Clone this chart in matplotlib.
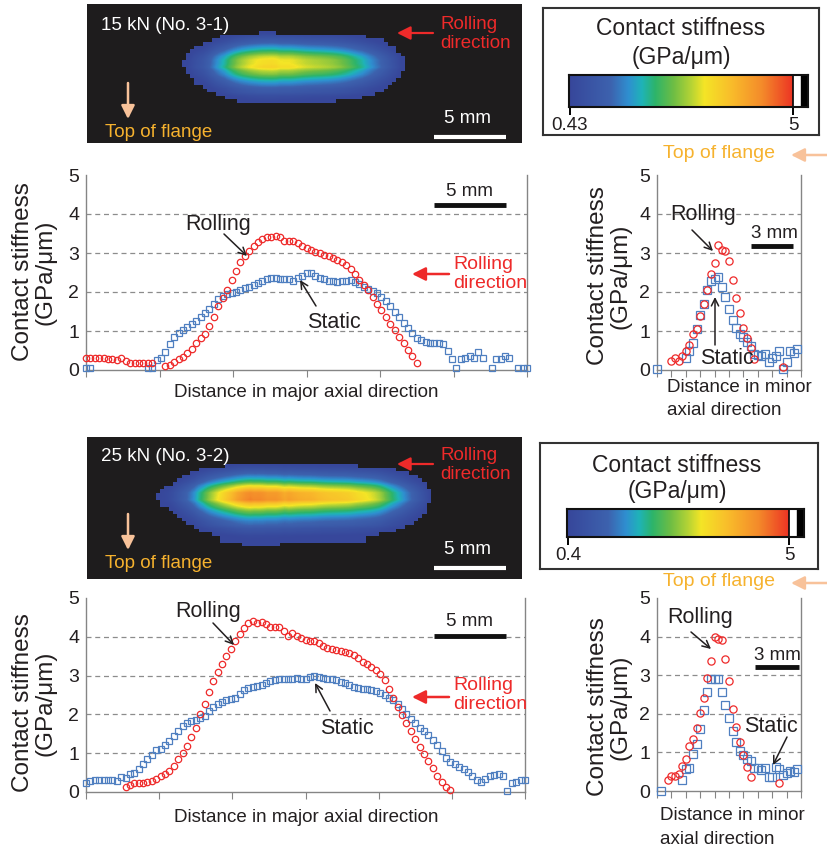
import numpy as np
import matplotlib
matplotlib.use('Agg')
import matplotlib.pyplot as plt
from matplotlib.colors import LinearSegmentedColormap

plt.rcParams['font.family'] = ['Liberation Sans', 'DejaVu Sans']

nan = np.nan

# profiles along the major axis, 0.3 mm pitch (GPa/um)
major_x = np.arange(101) * 0.3
rolling_major_15 = [0.31, 0.31, 0.31, 0.31, 0.30, 0.27, 0.27, 0.26, 0.30, 0.24,
                    0.19, 0.19, 0.19, 0.19, 0.19, 0.19, nan, nan, 0.09, 0.13,
                    0.20, 0.27, 0.34, 0.43, 0.55, 0.70, 0.82, 0.93, 1.12, 1.37,
                    1.63, 1.85, 2.05, 2.31, 2.55, 2.76, 2.93, 3.06, 3.18, 3.27,
                    3.35, 3.40, 3.42, 3.44, 3.41, 3.31, 3.30, 3.30, 3.26, 3.19,
                    3.13, 3.07, 3.03, 2.99, 2.96, 2.92, 2.88, 2.83, 2.76, 2.68,
                    2.58, 2.46, 2.32, 2.18, 2.05, 1.87, 1.70, 1.53, 1.36, 1.19,
                    1.02, 0.85, 0.69, 0.51, 0.35, 0.19] + [nan] * 25
static_major_15 = [0.05, 0.05, nan, nan, nan, nan, nan, nan, nan, nan,
                   nan, nan, nan, nan, 0.05, 0.05, 0.25, 0.30, 0.45, 0.66,
                   0.85, 0.95, 1.02, 1.09, 1.17, 1.26, 1.35, 1.45, 1.56, 1.70,
                   1.81, 1.90, 1.95, 1.98, 2.01, 2.05, 2.09, 2.12, 2.19, 2.24,
                   2.29, 2.33, 2.35, 2.35, 2.33, 2.33, 2.33, 2.29, 2.35, 2.42,
                   2.48, 2.49, 2.42, 2.37, 2.33, 2.29, 2.27, 2.26, 2.27, 2.29,
                   2.30, 2.26, 2.20, 2.14, 2.08, 2.03, 1.97, 1.87, 1.76, 1.63,
                   1.48, 1.35, 1.21, 1.07, 0.94, 0.83, 0.76, 0.71, 0.70, 0.69,
                   0.68, 0.66, 0.50, 0.27, 0.06, 0.27, 0.30, 0.36, 0.32, 0.46,
                   0.30, nan, 0.06, 0.27, 0.28, 0.35, 0.30, nan, 0.06, 0.06,
                   0.06]
rolling_major_25 = [nan] * 9 + [0.12, 0.17, 0.22, 0.23, 0.24, 0.25, 0.28, 0.34, 0.42, 0.47,
                                0.54, 0.67, 0.84, 1.01, 1.19, 1.41, 1.66, 2.00, 2.27, 2.59,
                                2.85, 3.08, 3.30, 3.50, 3.69, 3.88, 4.08, 4.22, 4.35, 4.42,
                                4.36, 4.38, 4.33, 4.24, 4.24, 4.24, 4.15, 4.02, 4.10, 4.03,
                                3.97, 3.93, 3.90, 3.89, 3.84, 3.77, 3.72, 3.68, 3.65, 3.63,
                                3.60, 3.57, 3.53, 3.45, 3.36, 3.30, 3.22, 3.14, 3.03, 2.88,
                                2.66, 2.42, 2.19, 1.99, 1.79, 1.58, 1.36, 1.16, 0.97, 0.80,
                                0.61, 0.41, 0.27, 0.13, 0.04] + [nan] * 17
static_major_25 = [0.22, 0.28, 0.30, 0.30, 0.30, 0.30, 0.30, 0.28, 0.38, 0.36,
                   0.46, 0.50, 0.60, 0.72, 0.85, 0.95, 1.07, 1.12, 1.20, 1.32,
                   1.45, 1.56, 1.71, 1.79, 1.83, 1.85, 1.90, 1.97, 2.09, 2.18,
                   2.27, 2.32, 2.36, 2.39, 2.41, 2.52, 2.62, 2.67, 2.70, 2.72,
                   2.76, 2.80, 2.85, 2.88, 2.90, 2.90, 2.91, 2.91, 2.93, 2.90,
                   2.92, 2.96, 2.98, 2.96, 2.94, 2.92, 2.90, 2.88, 2.84, 2.80,
                   2.75, 2.71, 2.68, 2.66, 2.65, 2.64, 2.61, 2.55, 2.49, 2.43,
                   2.38, 2.27, 2.13, 2.00, 1.88, 1.77, 1.65, 1.56, 1.47, 1.35,
                   1.21, 1.05, 0.88, 0.77, 0.71, 0.65, 0.60, 0.52, 0.41, 0.30,
                   0.27, 0.33, 0.40, 0.43, 0.47, 0.40, 0.03, 0.22, 0.26, 0.30,
                   0.30]

# profiles along the minor axis, 0.25 mm pitch
minor_x = np.arange(41) * 0.25
rolling_minor_15 = [nan] * 4 + [0.22, 0.31, 0.24, 0.35, 0.48, 0.63, 0.93, 1.06, 1.39, 1.69,
                                2.06, 2.47, 2.75, 3.20, 3.08, 3.05, 2.79, 2.32, 1.84, 1.47,
                                1.08, 0.83, 0.56, 0.29] + [nan] * 7 + [0.08] + [nan] * 5
static_minor_15 = [0.02] + [nan] * 7 + [0.30, 0.48, 0.69, 1.06, 1.41, 1.69, 2.04, 2.27, 2.33, 2.39,
                                        2.13, 1.86, 1.56, 1.28, 1.08, 0.93, 0.85, 0.72, 0.62, 0.40,
                                        0.39, 0.37, 0.40, 0.20, 0.30, 0.37, 0.48, 0.02, 0.20, 0.50,
                                        0.44, 0.54] + [nan]
rolling_minor_25 = [nan] * 3 + [0.29, 0.38, 0.38, 0.45, 0.66, 0.82, 1.16, 1.34, 1.64, 2.02,
                                2.41, 2.92, 3.38, 4.00, 3.94, 3.90, 3.41, 2.84, 2.13, 1.66,
                                1.27, 0.92, 0.62, 0.36] + [nan] * 7 + [0.22] + [nan] * 6
static_minor_25 = [nan, 0.0] + [nan] * 5 + [0.29, 0.58, 0.60, 0.95, 1.22, 1.61, 2.09, 2.56, 2.89, 2.89,
                                            2.89, 2.56, 2.24, 1.90, 1.55, 1.28, 1.03, 0.92, 0.82, 0.79,
                                            0.59, 0.59, 0.55, 0.59, 0.36, 0.36, 0.62, 0.58, 0.41, 0.47,
                                            0.51, 0.49, 0.58] + [nan]

loads = ['15 kN (No. 3-1)', '25 kN (No. 3-2)']
cbar_ticks = [(0.43, '0.43'), (0.4, '0.4')]

RED = '#ee2a2a'
BLUE = '#4f7fc0'
TXT = '#231f20'
SPINE = '#858585'
GRID = '#8c8c8c'
PEACH = '#f8c29a'
GOLD = '#f6b22e'

stiff_cmap = LinearSegmentedColormap.from_list('stiff', [
    (0.0, '#37479b'), (0.18, '#3d62ae'), (0.26, '#2f8fd0'), (0.32, '#1fb3b8'),
    (0.38, '#2db46a'), (0.46, '#6cbd45'), (0.54, '#b4d335'), (0.60, '#f4e526'),
    (0.72, '#f9bd2b'), (0.86, '#f48a2a'), (1.0, '#ec3224')])
stiff_cmap.set_under('#37479b')
stiff_cmap.set_bad((0, 0, 0, 0))

W, H = 827, 849
fig = plt.figure(figsize=(W / 100, H / 100), dpi=100)


def add_ax(l, t, r, b):
    return fig.add_axes([l / W, 1 - b / H, (r - l) / W, (b - t) / H])


def contact_map(ax, major, minor, ylim, vmin):
    f = np.array(major)
    g = np.array(minor)
    z = np.outer(g, f) / np.nanmax(g)
    z = np.ma.masked_invalid(np.where(z >= 0.3, z, nan))
    ax.imshow(z, origin='lower', cmap=stiff_cmap, vmin=vmin, vmax=5,
              extent=[major_x[0] - 0.15, major_x[-1] + 0.15, minor_x[0] - 0.125, minor_x[-1] + 0.125],
              interpolation='bilinear', aspect='auto')
    ax.set_facecolor('#1e1c1d')
    ax.set_xlim(0, 30.4)
    ax.set_ylim(*ylim)
    ax.set_xticks([])
    ax.set_yticks([])
    for s in ax.spines.values():
        s.set_visible(False)


def colour_box(box, bar, vmin, label):
    ax = add_ax(*box)
    ax.set_xticks([])
    ax.set_yticks([])
    for s in ax.spines.values():
        s.set_color('#333333')
        s.set_linewidth(1.5)
    cax = add_ax(*bar)
    ramp = np.linspace(vmin, 5, 256)[None, :]
    right = 5 + 15 * (5 - vmin) / (bar[2] - bar[0] - 15)
    cax.imshow(ramp, extent=[vmin, 5, 0, 1], cmap=stiff_cmap, vmin=vmin, vmax=5, aspect='auto')
    cax.axvspan(5, 5 + (right - 5) * 0.45, color='white')
    cax.axvspan(5 + (right - 5) * 0.5, right, color='black')
    cax.axvline(5, color='black', lw=1.2)
    cax.set_xlim(vmin - 0.02, right)
    cax.set_ylim(0, 1)
    cax.set_yticks([])
    cax.set_xticks([vmin, 5])
    cax.set_xticklabels([label, '5'])
    cax.tick_params(axis='x', direction='out', length=6, width=1.4, labelsize=13.5,
                    labelcolor=TXT, pad=1)
    for s in cax.spines.values():
        s.set_color('#111111')
        s.set_linewidth(1.5)


def profile_axes(ax, x, static, rolling, xmax, xstep, ms):
    for v in (1, 2, 3, 4):
        ax.axhline(v, color=GRID, lw=0.9, ls=(0, (4, 3)), zorder=1)
    ax.plot(x, static, ls='none', marker='s', ms=ms, mfc='none', mec=BLUE, mew=0.9,
            clip_on=False, zorder=3)
    ax.plot(x, rolling, ls='none', marker='o', ms=ms, mfc='none', mec=RED, mew=0.9,
            clip_on=False, zorder=4)
    ax.set_xlim(0, xmax)
    ax.set_ylim(0, 5)
    ax.set_yticks(range(6))
    ax.tick_params(axis='y', length=0, pad=5, labelsize=14, labelcolor=TXT)
    ax.set_xticks(np.arange(0, xmax + 0.01, xstep))
    ax.set_xticklabels([])
    ax.tick_params(axis='x', direction='out', length=5, color=SPINE)
    ax.spines['top'].set_visible(False)
    for s in ('left', 'right', 'bottom'):
        ax.spines[s].set_color(SPINE)
        ax.spines[s].set_linewidth(1.0)


# contact stiffness maps
contact_map(add_ax(87, 4, 522, 143), rolling_major_15, rolling_minor_15, (-1.0, 8.72), 0.43)
contact_map(add_ax(87, 437, 522, 579), rolling_major_25, rolling_minor_25, (-1.54, 8.39), 0.4)

colour_box((543, 8, 819, 135), (569, 75, 808, 107), *cbar_ticks[0])
colour_box((540, 443, 818, 569), (567, 509, 804, 537), *cbar_ticks[1])

profile_axes(add_ax(86, 175, 527, 370), major_x, static_major_15, rolling_major_15, 30, 5, 4.6)
profile_axes(add_ax(657, 175, 801, 370), minor_x, static_minor_15, rolling_minor_15, 10, 1, 5.2)
profile_axes(add_ax(86, 598, 525, 792), major_x, static_major_25, rolling_major_25, 30, 5, 4.6)
profile_axes(add_ax(657, 598, 801, 791), minor_x, static_minor_25, rolling_minor_25, 10, 1, 5.2)

# labels, arrows and scale bars in pixel coordinates
ov = fig.add_axes([0, 0, 1, 1])
ov.set_xlim(0, W)
ov.set_ylim(H, 0)
ov.axis('off')
ov.set_zorder(10)


def txt(x, y, s, size, color=TXT, ha='center', **kw):
    ov.text(x, y, s, fontsize=size, color=color, ha=ha, va='center', **kw)


def arrow(x0, y0, x1, y1, color=TXT, style='->', lw=1.1, scale=13):
    ov.annotate('', xy=(x1, y1), xytext=(x0, y0),
                arrowprops=dict(arrowstyle=style, color=color, lw=lw, mutation_scale=scale,
                                shrinkA=0, shrinkB=0))


def bar(x0, x1, y, color, lw):
    ov.plot([x0, x1], [y, y], color=color, lw=lw, solid_capstyle='butt')


YLAB = 'Contact stiffness\n(GPa/\u03bcm)'
FILLED = '-|>,head_length=0.4,head_width=0.2'

for k, dy in enumerate([0, 431]):
    # map panel
    txt(101, 25 + dy, loads[k], 13.5, 'white', ha='left')
    txt(440, 34 + dy, 'Rolling\ndirection', 13.5, RED, ha='left', linespacing=1.15)
    arrow(433, 33 + dy, 397, 33 + dy, RED, FILLED, 1.6, 20)
    arrow(128, 83 + dy, 128, 119 + dy, PEACH, FILLED, 1.8, 20)
    txt(105, 132 + dy, 'Top of flange', 13.5, GOLD, ha='left')
    txt(468, 118 + dy, '5 mm', 13.5, 'white')
    bar(434, 506, 137 + dy, 'white', 3)

    # colour scale box
    cx = 681 - 4 * k
    txt(cx, 28 + 6 * k + dy, 'Contact stiffness', 16.5)
    txt(cx, 57 + 3 * k + dy, '(GPa/\u03bcm)', 16.5)
    txt(663, 153 - 3 * k + dy, 'Top of flange', 14, GOLD, ha='left')
    arrow(827, 155 - 3 * k + dy, 791, 155 - 3 * k + dy, PEACH, FILLED, 1.8, 20)

    # major-axis profile
    txt(34, 272 + dy, YLAB, 17.5, rotation=90, linespacing=1.05)
    txt(306, 392 + dy - 5 * k, 'Distance in major axial direction', 13.5)
    txt(470, 191 + dy, '5 mm', 13.5)
    bar(434, 506, 205 + dy, '#111111', 3.5)
    txt(453, 274 + dy - 10 * k, 'Rolling\ndirection', 14, RED, ha='left', linespacing=1.1)
    arrow(449, 274 + dy - 8 * k, 412, 274 + dy - 8 * k, RED, FILLED, 1.8, 20)

    # minor-axis profile
    txt(609, 276 + dy, YLAB, 17.5, rotation=90, linespacing=1.05)
    txt(667 - 7 * k, 387 + dy - 3 * k, 'Distance in minor', 13.5, ha='left')
    txt(667 - 7 * k, 410 + dy - 2 * k, 'axial direction', 13.5, ha='left')

# pointers for the 15 kN profiles
txt(218, 224, 'Rolling', 15.5)
arrow(224, 234, 247, 256)
txt(334, 323, 'Static', 15.5)
arrow(316, 306, 300, 280)
txt(703, 214, 'Rolling', 15.5)
arrow(692, 230, 713, 251)
txt(774, 233, '3 mm', 13.5)
bar(751, 793, 246, '#111111', 3.5)
txt(727, 358, 'Static', 15.5)
arrow(715, 345, 715, 297)

# pointers for the 25 kN profiles
txt(208, 612, 'Rolling', 15.5)
arrow(213, 623, 234, 645)
txt(347, 728, 'Static', 15.5)
arrow(330, 711, 315, 683)
txt(700, 618, 'Rolling', 15.5)
arrow(691, 632, 711, 649)
txt(777, 655, '3 mm', 13.5)
bar(755, 799, 667, '#111111', 3.5)
txt(771, 727, 'Static', 15.5)
arrow(787, 737, 773, 765)

fig.savefig('out.png', dpi=100)
